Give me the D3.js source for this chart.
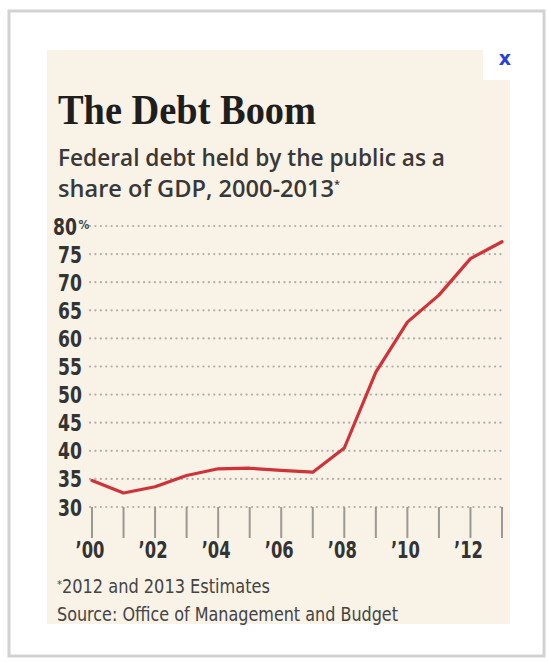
<!DOCTYPE html>
<html>
<head>
<meta charset="utf-8">
<script src="https://cdn.jsdelivr.net/npm/d3@7"></script>
<style>
  body { margin: 0; background: #fff; }
  svg { display: block; }
</style>
</head>
<body>
<div id="chart"></div>
<script>
// values (percent of GDP)
const years = [2000, 2001, 2002, 2003, 2004, 2005, 2006, 2007, 2008, 2009, 2010, 2011, 2012, 2013];
const debtShare = [34.7, 32.5, 33.6, 35.6, 36.8, 36.9, 36.5, 36.2, 40.5, 54.0, 62.9, 67.7, 74.2, 77.2];
const yTicks = [30, 35, 40, 45, 50, 55, 60, 65, 70, 75, 80];
const xLabelYears = [2000, 2002, 2004, 2006, 2008, 2010, 2012];

const width = 548;
const height = 662;
const condensed = "'Liberation Sans Narrow', 'DejaVu Sans Condensed', 'Roboto Condensed', sans-serif";

const svg = d3.select("#chart")
  .append("svg")
  .attr("width", width)
  .attr("height", height);

// outer frame with a soft shadow
svg.append("rect")
  .attr("x", 9).attr("y", 11)
  .attr("width", 535).attr("height", 645)
  .attr("fill", "#fff")
  .attr("stroke", "#d2d2d2")
  .attr("stroke-width", 3);

// beige panel, with a white notch top right
svg.append("rect")
  .attr("x", 47).attr("y", 50)
  .attr("width", 463).attr("height", 574)
  .attr("fill", "#f8f2e7");
svg.append("rect")
  .attr("x", 483).attr("y", 49)
  .attr("width", 28).attr("height", 31)
  .attr("fill", "#fff");
svg.append("text")
  .attr("x", 505).attr("y", 65)
  .attr("text-anchor", "middle")
  .style("font-family", "DejaVu Sans, sans-serif")
  .style("font-size", "19px")
  .style("font-weight", "bold")
  .style("fill", "#2b3fd4")
  .text("x");

// title and subtitle
svg.append("text")
  .attr("x", 58).attr("y", 124)
  .attr("textLength", 258)
  .attr("lengthAdjust", "spacingAndGlyphs")
  .style("font-family", "'Liberation Serif', 'DejaVu Serif', serif")
  .style("font-size", "42px")
  .style("font-weight", "bold")
  .style("fill", "#1e1e1e")
  .text("The Debt Boom");

svg.append("text")
  .attr("x", 58).attr("y", 166)
  .attr("textLength", 387)
  .attr("lengthAdjust", "spacingAndGlyphs")
  .style("font-family", "'Open Sans', sans-serif")
  .style("font-size", "23px")
  .style("font-weight", 600)
  .style("fill", "#383838")
  .text("Federal debt held by the public as a");

const sub2 = svg.append("text")
  .attr("x", 58).attr("y", 197)
  .style("font-family", "'Open Sans', sans-serif")
  .style("font-size", "23px")
  .style("font-weight", 600)
  .style("fill", "#383838");
sub2.append("tspan")
  .attr("textLength", 276)
  .attr("lengthAdjust", "spacingAndGlyphs")
  .text("share of GDP, 2000-2013");
sub2.append("tspan")
  .attr("dy", -9)
  .style("font-size", "11px")
  .text("*");

// scales
const x = d3.scaleLinear().domain([2000, 2013]).range([92, 502]);
const y = d3.scaleLinear().domain([30, 80]).range([507, 226]);

// dotted gridlines
svg.append("g")
  .selectAll("line")
  .data(yTicks)
  .join("line")
  .attr("x1", 90).attr("x2", 504)
  .attr("y1", d => y(d)).attr("y2", d => y(d))
  .attr("stroke", "#b3aea6")
  .attr("stroke-width", 2.2)
  .attr("stroke-linecap", "round")
  .attr("stroke-dasharray", "0.1,5.3");

// y labels, squeezed horizontally to look like the condensed face
const yTop = d3.max(yTicks);
svg.append("g")
  .selectAll("text")
  .data(yTicks)
  .join("text")
  .attr("transform", d => `translate(${d === yTop ? 77 : 82},${y(d) + 8.5}) scale(0.83,1)`)
  .attr("text-anchor", "end")
  .style("font-family", condensed)
  .style("font-size", "23px")
  .style("font-weight", "bold")
  .style("fill", "#333")
  .text(d => d);

svg.append("text")
  .attr("x", 78.5)
  .attr("y", y(yTop) + 3)
  .style("font-family", condensed)
  .style("font-size", "12px")
  .style("font-weight", "bold")
  .style("fill", "#444")
  .text("%");

// year ticks
svg.append("g")
  .selectAll("line")
  .data(years)
  .join("line")
  .attr("x1", d => x(d)).attr("x2", d => x(d))
  .attr("y1", 507).attr("y2", 538)
  .attr("stroke", "#9c9892")
  .attr("stroke-width", 2);

// year labels
svg.append("g")
  .selectAll("text")
  .data(xLabelYears)
  .join("text")
  .attr("x", d => x(d) - 2)
  .attr("y", 558)
  .attr("text-anchor", "middle")
  .attr("textLength", 29)
  .attr("lengthAdjust", "spacingAndGlyphs")
  .style("font-family", condensed)
  .style("font-size", "23px")
  .style("font-weight", "bold")
  .style("fill", "#333")
  .text(d => "\u2019" + String(d).slice(2));

// the debt line
const line = d3.line()
  .x((d, i) => x(years[i]))
  .y(d => y(d));

svg.append("path")
  .datum(debtShare)
  .attr("d", line)
  .attr("fill", "none")
  .attr("stroke", "#cf3338")
  .attr("stroke-width", 3.2)
  .attr("stroke-linejoin", "round")
  .attr("stroke-linecap", "round");

// footnotes
const note = svg.append("text")
  .attr("x", 57).attr("y", 593)
  .style("font-family", condensed)
  .style("font-size", "19px")
  .style("fill", "#444");
note.append("tspan")
  .attr("dy", -5)
  .style("font-size", "11px")
  .text("*");
note.append("tspan")
  .attr("dy", 5)
  .attr("textLength", 208)
  .attr("lengthAdjust", "spacingAndGlyphs")
  .text("2012 and 2013 Estimates");

svg.append("text")
  .attr("x", 57).attr("y", 621)
  .attr("textLength", 341)
  .attr("lengthAdjust", "spacingAndGlyphs")
  .style("font-family", condensed)
  .style("font-size", "19px")
  .style("fill", "#444")
  .text("Source: Office of Management and Budget");
</script>
</body>
</html>
